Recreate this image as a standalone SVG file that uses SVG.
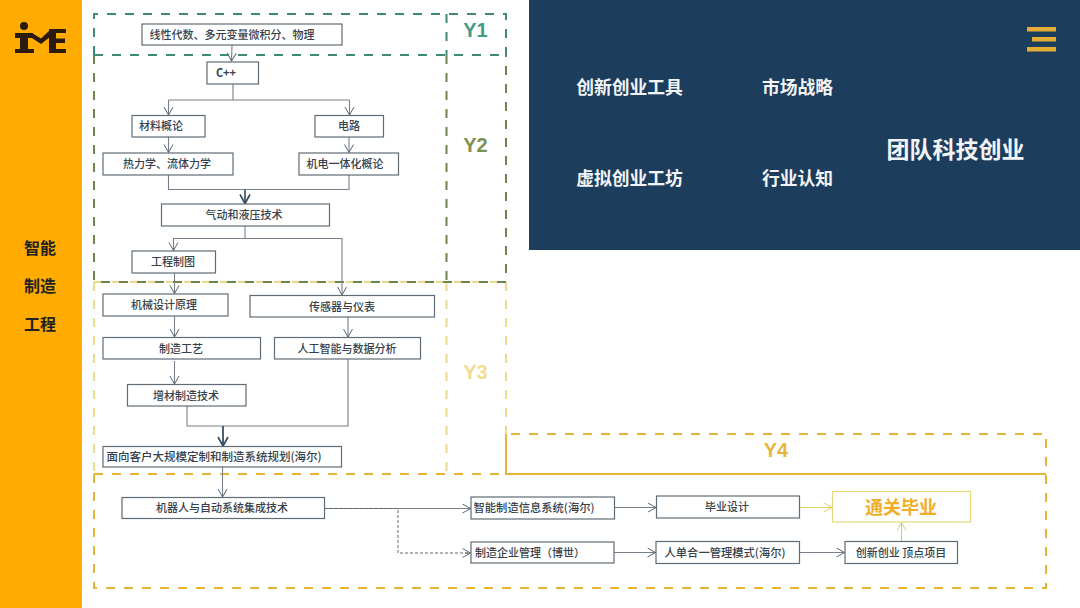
<svg xmlns="http://www.w3.org/2000/svg" width="1080" height="608" viewBox="0 0 1080 608">
<defs>
<marker id="a" markerWidth="12" markerHeight="12" refX="9" refY="5" orient="auto" markerUnits="userSpaceOnUse"><path d="M1 0.5L9 5L1 9.5" fill="none" stroke="#5a6670" stroke-width="1"/></marker>
<marker id="ad" markerWidth="14" markerHeight="14" refX="10" refY="6" orient="auto" markerUnits="userSpaceOnUse"><path d="M1 1L10 6L1 11" fill="none" stroke="#2f4a63" stroke-width="1.6"/></marker>
<marker id="ay" markerWidth="12" markerHeight="12" refX="9" refY="5" orient="auto" markerUnits="userSpaceOnUse"><path d="M1 0.5L9 5L1 9.5" fill="none" stroke="#e0cf6a" stroke-width="1"/></marker>
<marker id="ag" markerWidth="12" markerHeight="12" refX="9" refY="5" orient="auto" markerUnits="userSpaceOnUse"><path d="M1 0.5L9 5L1 9.5" fill="none" stroke="#c5d08a" stroke-width="1"/></marker>
</defs>
<style>
.n{fill:#fff;stroke:#5f6b75;stroke-width:1.2}
.t{font-family:"Noto Sans CJK SC","Liberation Sans",sans-serif;font-size:11px;fill:#36414b;text-anchor:middle;font-weight:500}
.c{fill:none;stroke:#77808a;stroke-width:1.1;marker-end:url(#a)}
.l{fill:none;stroke:#77808a;stroke-width:1.1}
.d{fill:none;stroke-width:2;stroke-dasharray:9 9}
.w{font-family:"Noto Sans CJK SC",sans-serif;font-size:17.800px;font-weight:700;fill:#f2f5f7;text-anchor:middle}
.y{font-family:"Liberation Sans",sans-serif;font-size:20px;font-weight:700;text-anchor:middle}
.s{font-family:"Noto Sans CJK SC",sans-serif;font-size:16px;font-weight:700;fill:#222;text-anchor:middle}
</style>
<rect width="1080" height="608" fill="#fff"/>
<g id="sidebar">
<rect x="0" y="0" width="82" height="608" fill="#ffab00"/>
<g fill="#2a1a10">
<circle cx="24" cy="26" r="4"/>
<rect x="15" y="33" width="18" height="5"/><rect x="20" y="33" width="8" height="20"/><rect x="15" y="49" width="19" height="4"/>
<path d="M32 33L41 38.500L49 31L50 37L41 44L32 38Z"/>
<rect x="49" y="29" width="7" height="24"/><rect x="49" y="29" width="17" height="4"/><rect x="49" y="38.500" width="16" height="4.500"/><rect x="49" y="49" width="17" height="4"/>
</g>
<text class="s" x="40" y="254">智能</text>
<text class="s" x="40" y="292">制造</text>
<text class="s" x="40" y="330">工程</text>
</g>
<g id="panel">
<rect x="529" y="0" width="551" height="250" fill="#1d3d5c"/>
<rect x="1027" y="27" width="29" height="4.500" fill="#e3ac35"/><rect x="1032" y="37" width="24" height="4.500" fill="#e3ac35"/><rect x="1027" y="47" width="29" height="4.500" fill="#e3ac35"/>
<text class="w" x="629.500" y="94">创新创业工具</text>
<text class="w" x="797.500" y="94">市场战略</text>
<text class="w" x="629.500" y="185">虚拟创业工坊</text>
<text class="w" x="797.500" y="185">行业认知</text>
<text class="w" x="955.500" y="158" style="font-size:23px">团队科技创业</text>
</g>
<g id="year-frames">
<path class="d" stroke="#ecd98a" d="M94 282V474M446.500 282V474M506 282V434M94 282H506"/>
<path class="d" stroke="#6f8551" d="M94 55V282H506V55M446.500 55V282"/>
<path class="d" stroke="#3f8a76" d="M94 55V14H506V55M94 55H506M446.500 14V55"/>
<path class="d" stroke="#e5b437" d="M94 474V588H1046V434H506M94 474H506"/>
<path fill="none" stroke="#e8b53a" stroke-width="2" d="M506 434V474H1046"/>
<text class="y" x="475.500" y="37" fill="#3f9a86">Y1</text>
<text class="y" x="475.500" y="152" fill="#7b9150">Y2</text>
<text class="y" x="475.500" y="379" fill="#f0dc94">Y3</text>
<text class="y" x="776" y="457" fill="#e8b53a">Y4</text>
</g>
<g id="connectors">
<path class="c" d="M232 45L231.500 61"/>
<path class="l" d="M233 84V100M168.500 100H349.500"/>
<path class="c" d="M168.500 100V115"/>
<path class="c" d="M349.500 100V115"/>
<path class="c" d="M168.500 137V152.500"/>
<path class="c" d="M349 137V152.500"/>
<path class="l" d="M168.500 175V189.500H349V175"/>
<path fill="none" stroke="#2f4a63" stroke-width="1.600" marker-end="url(#ad)" d="M245 189.500V203.500"/>
<path class="l" d="M245 226V238.500"/>
<path class="c" d="M245 238.500H173.500V250.500"/>
<path class="c" d="M245 238.500H342V295"/>
<path class="c" d="M174.500 273V293.500"/>
<path class="c" d="M174.500 316V337"/>
<path class="c" d="M174.500 361V384"/>
<path class="c" d="M348 317V337"/>
<path class="l" d="M187 406V426H348V359"/>
<path fill="none" stroke="#3b4f63" stroke-width="1.800" marker-end="url(#ad)" d="M223 426V446"/>
<path class="c" d="M222.500 467V497"/>
<path class="c" d="M324.500 508.500H470.500"/>
<path fill="none" stroke="#666" stroke-width="1" stroke-dasharray="3 2" d="M324.500 508.500H398V553H470"/>
<path fill="none" stroke="#666" stroke-width="1" marker-end="url(#a)" d="M465 553H470.500"/>
<path class="c" d="M615 507.500H656"/>
<path class="c" d="M614 552.500H655.500"/>
<path class="c" d="M799.500 552.500H844.500"/>
<path fill="none" stroke="#e0cf6a" stroke-width="1.100" marker-end="url(#ay)" d="M800 507.500H832"/>
<path fill="none" stroke="#c5d08a" stroke-width="1.100" marker-end="url(#ag)" d="M901.500 541V522.500"/>
</g>
<g id="n1"><rect class="n" x="142" y="24" width="200" height="21"/><text class="t" x="232" y="38.500">线性代数、多元变量微积分、物理</text></g>
<g id="n2"><rect class="n" x="207" y="62" width="51.500" height="22"/><text class="t" x="226" y="77" style="font-weight:700">C++</text></g>
<g id="n3"><rect class="n" x="132" y="115.500" width="73" height="21.500"/><text class="t" x="161" y="130">材料概论</text></g>
<g id="n4"><rect class="n" x="315" y="115.500" width="68.500" height="21.500"/><text class="t" x="349" y="130">电路</text></g>
<g id="n5"><rect class="n" x="103" y="153" width="130" height="22"/><text class="t" x="167" y="168">热力学、流体力学</text></g>
<g id="n6"><rect class="n" x="299" y="153" width="99.500" height="22"/><text class="t" x="345" y="168">机电一体化概论</text></g>
<g id="n7"><rect class="n" x="161.500" y="204" width="168" height="22"/><text class="t" x="244" y="219">气动和液压技术</text></g>
<g id="n8"><rect class="n" x="132" y="251" width="83.500" height="22"/><text class="t" x="173" y="266">工程制图</text></g>
<g id="n9"><rect class="n" x="103" y="294" width="125" height="22"/><text class="t" x="164" y="309">机械设计原理</text></g>
<g id="n10"><rect class="n" x="250" y="295.500" width="184.500" height="21.500"/><text class="t" x="342" y="311">传感器与仪表</text></g>
<g id="n11"><rect class="n" x="103" y="337.500" width="157.500" height="21.500"/><text class="t" x="181" y="352.500">制造工艺</text></g>
<g id="n12"><rect class="n" x="274.500" y="337.500" width="146" height="21.500"/><text class="t" x="347" y="352.500">人工智能与数据分析</text></g>
<g id="n13"><rect class="n" x="127.500" y="384.500" width="118.500" height="21.500"/><text class="t" x="186" y="399.500">增材制造技术</text></g>
<g id="n14"><rect class="n" x="103" y="446.500" width="238.500" height="20.500"/><text class="t" x="214" y="461" style="font-size:11.500px">面向客户大规模定制和制造系统规划(海尔)</text></g>
<g id="n15"><rect class="n" x="122" y="497.500" width="202.500" height="21"/><text class="t" x="222" y="512">机器人与自动系统集成技术</text></g>
<g id="n16"><rect class="n" x="471" y="497" width="143.500" height="22"/><text class="t" x="534" y="512" style="font-size:11.300px">智能制造信息系统(海尔)</text></g>
<g id="n17"><rect class="n" x="471" y="542" width="143" height="21"/><text class="t" x="530" y="557">制造企业管理（博世）</text></g>
<g id="n18"><rect class="n" x="656.500" y="496" width="143" height="22"/><text class="t" x="727" y="511">毕业设计</text></g>
<g id="n19"><rect class="n" x="656" y="541.500" width="143.500" height="22"/><text class="t" x="725" y="556.500" style="font-size:11.300px">人单合一管理模式(海尔)</text></g>
<g id="n20"><rect class="n" x="845" y="541.500" width="112.500" height="22"/><text class="t" x="901" y="556.500">创新创业 顶点项目</text></g>
<g id="n21"><rect x="832.500" y="491.500" width="138" height="30.500" fill="#fff" stroke="#e6d67a" stroke-width="1.200"/><text x="901" y="514" text-anchor="middle" style="font-family:'Noto Sans CJK SC',sans-serif;font-size:18px;font-weight:700;fill:#f0ae28">通关毕业</text></g>
</svg>
